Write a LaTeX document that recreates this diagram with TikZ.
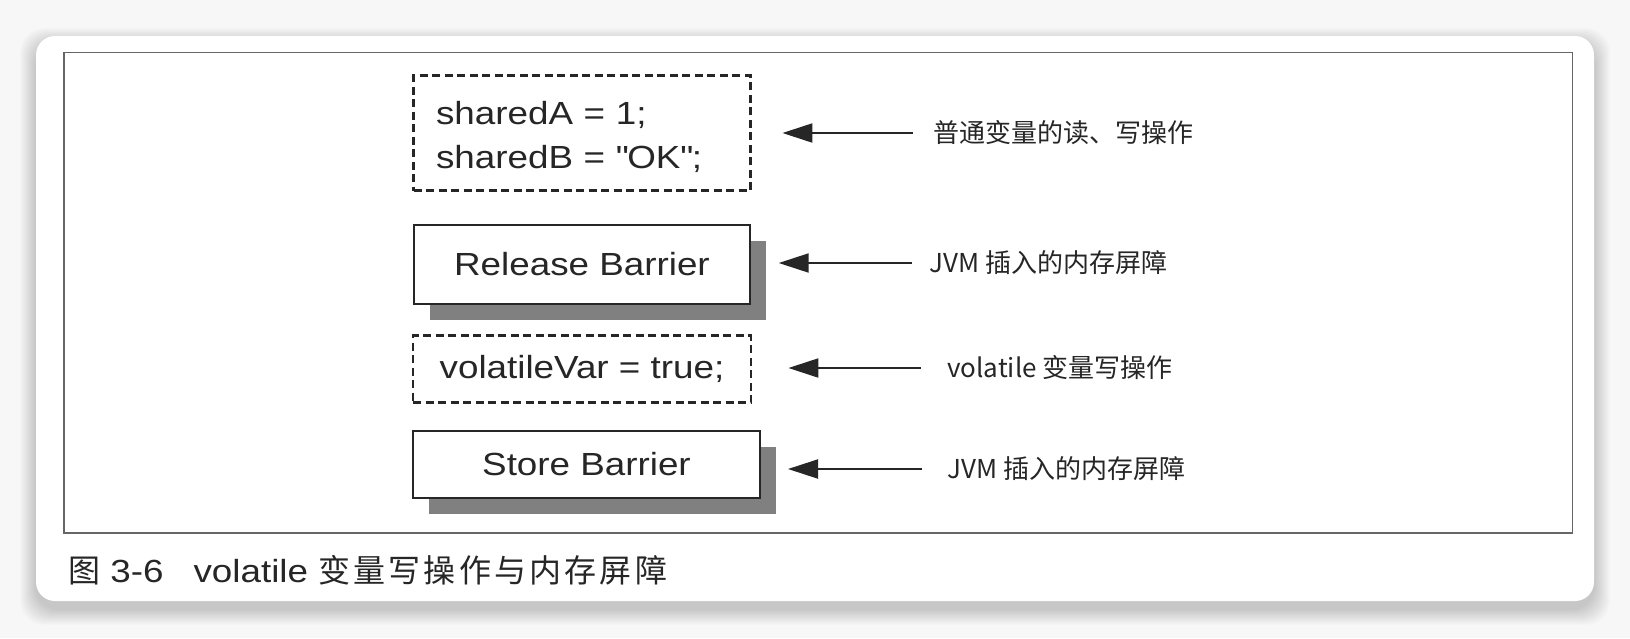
\documentclass[tikz,border=0pt]{standalone}
\usepackage{fontspec}
\setmainfont{Liberation Sans}[FakeStretch=1.15]
\newfontfamily\cjk{Noto Sans CJK SC}
\newfontfamily\capcjk{Noto Sans CJK SC}[LetterSpace=10]
\usetikzlibrary{arrows.meta, shadows}

\begin{document}
\begin{tikzpicture}[x=1pt, y=-1pt, >={Triangle[length=30pt, width=19pt]},
  codebox/.style={draw=black!85, line width=2.8pt, dash pattern=on 8pt off 4.5pt,
    fill=white, inner sep=0pt, text=black!85, font=\fontsize{32}{44}\selectfont},
  barrier/.style={draw=black!85, line width=2pt, fill=white, inner sep=0pt,
    text=black!85, font=\fontsize{32}{38}\selectfont,
    drop shadow={shadow xshift=16pt, shadow yshift=-16pt, fill=black!50, opacity=1}},
  note/.style={anchor=west, inner sep=0pt, text=black!85, font=\cjk\fontsize{26}{30}\selectfont},
  pointer/.style={->, line width=2pt, draw=black!85}]
  % Page and card
  \useasboundingbox (0,0) rectangle (1630,638);
  \fill[black!3] (0,0) rectangle (1630,638);
  \foreach \s in {1,...,16}
    \fill[black, opacity=0.011, rounded corners=24pt] (36-\s,44-\s) rectangle (1594+\s,609+\s);
  \fill[white, rounded corners=19pt] (36,36) rectangle (1594,601);
  \draw[black!60, line width=1.5pt] (64,52.5) rectangle (1572.5,533);
  % Boxes
  \node[codebox, minimum width=337pt, minimum height=115pt, text width=292pt, align=left]
    (shared) at (582,133) {\rule{0pt}{31pt}sharedA = 1;\\sharedB = \textquotedbl OK\textquotedbl;};
  \node[barrier, minimum width=336pt, minimum height=79pt] (release) at (582,264.5) {Release Barrier};
  \node[codebox, minimum width=338pt, minimum height=67pt] (volatile) at (582,369) {volatileVar = true;};
  \node[barrier, minimum width=347pt, minimum height=67pt] (store) at (586.5,464) {Store Barrier};
  % Notes
  \node[note] (n1) at (933,133) {普通变量的读、写操作};
  \node[note] (n2) at (929,263) {JVM 插入的内存屏障};
  \node[note] (n3) at (947,368) {volatile 变量写操作};
  \node[note] (n4) at (947,469) {JVM 插入的内存屏障};
  \draw[pointer, shorten <=20pt, shorten >=30.5pt] (n1.west) -- (n1.west -| shared.east);
  \draw[pointer, shorten <=17pt, shorten >=27.7pt] (n2.west) -- (n2.west -| release.east);
  \draw[pointer, shorten <=26pt, shorten >=36pt] (n3.west) -- (n3.west -| volatile.east);
  \draw[pointer, shorten <=25pt, shorten >=27pt] (n4.west) -- (n4.west -| store.east);
  % Caption
  \node[anchor=west, inner sep=0pt, text=black!85, font=\fontsize{32}{36}\selectfont]
    (caption) at (68,570) {{\capcjk 图} 3-6\hspace{30pt}volatile {\capcjk 变量写操作与内存屏障}};
\end{tikzpicture}
\end{document}
